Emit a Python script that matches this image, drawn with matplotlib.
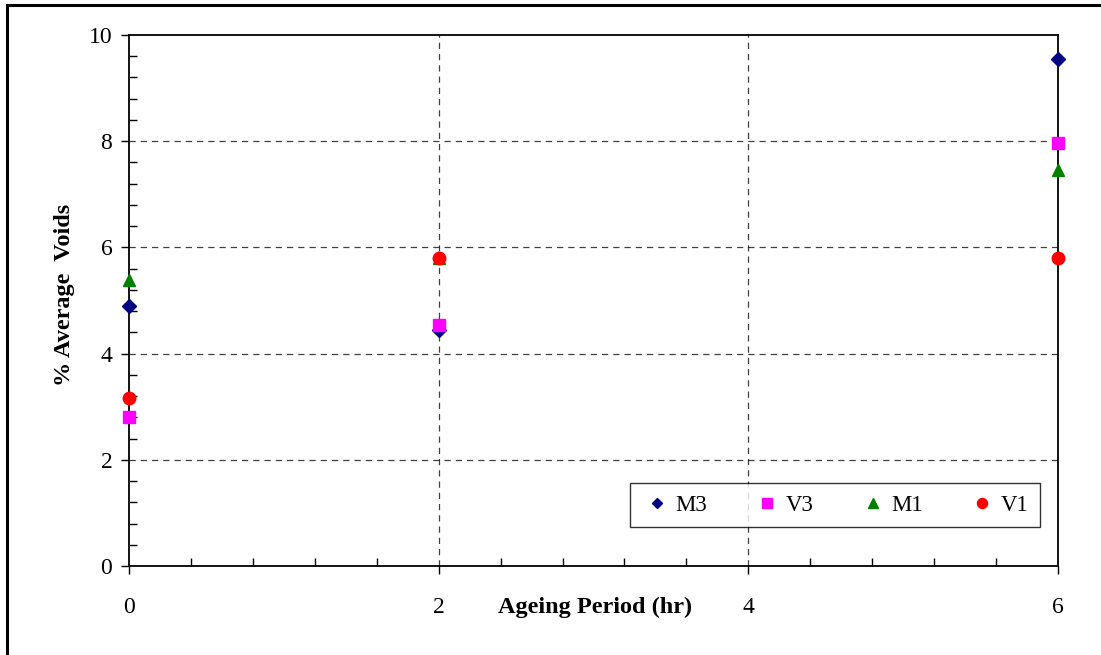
import numpy as np
import matplotlib
matplotlib.use("Agg")
import matplotlib.pyplot as plt
from matplotlib.ticker import MultipleLocator
from matplotlib.patches import Rectangle

# ageing period (hr) and % average voids per mix
hours = [0, 2, 6]
m3 = [4.90, 4.45, 9.55]
v3 = [2.80, 4.53, 7.96]
m1 = [5.39, 5.80, 7.46]
v1 = [3.17, 5.80, 5.80]

plt.rcParams['font.family'] = ['Liberation Serif', 'DejaVu Serif']

fig = plt.figure(figsize=(11.01, 6.55), dpi=100)
ax = fig.add_axes([129/1101, 89/655, 929/1101, 531/655])

# outer frame (only top/left visible in the original)
fig.patches.append(Rectangle((7/1101, -0.1), 1.2, 1.1 - 5/655,
                             transform=fig.transFigure, fill=False,
                             edgecolor='black', linewidth=2.2))

ax.plot(hours, m3, linestyle='none', marker='D', color='#000080', markersize=7, label='M3', clip_on=False, zorder=5)
ax.plot(hours, v3, linestyle='none', marker='s', color='#FF00FF', markersize=8.5, label='V3', clip_on=False, zorder=5)
ax.plot(hours, m1, linestyle='none', marker='^', color='#008000', markersize=9, label='M1', clip_on=False, zorder=4)
ax.plot(hours, v1, linestyle='none', marker='o', color='#FF0000', markersize=9, label='V1', clip_on=False, zorder=6)

ax.set_xlim(0, 6)
ax.set_ylim(0, 10)
ax.xaxis.set_major_locator(MultipleLocator(2))
ax.xaxis.set_minor_locator(MultipleLocator(0.4))
ax.yaxis.set_major_locator(MultipleLocator(2))
ax.yaxis.set_minor_locator(MultipleLocator(0.4))

ax.tick_params(axis='both', which='major', direction='out', length=6, width=1, labelsize=17)
ax.tick_params(axis='both', which='minor', direction='in', length=6, width=1)
ax.tick_params(axis='x', which='major', pad=16)
ax.tick_params(axis='y', which='major', pad=6)

# dashed grid like the original
for yv in [2, 4, 6, 8]:
    ax.axhline(yv, color='black', linestyle=(0, (5, 4)), linewidth=0.9, alpha=0.75, zorder=1)
for xv in [2, 4]:
    ax.axvline(xv, color='black', linestyle=(0, (5, 4)), linewidth=0.9, alpha=0.75, zorder=1)

for s in ax.spines.values():
    s.set_linewidth(1.3)

ax.set_xlabel('Ageing Period (hr)', fontsize=17.5, fontweight='bold')
ax.set_ylabel('% Average  Voids', fontsize=17.5, fontweight='bold')
ax.xaxis.set_label_coords(0.502, -0.058)
ax.yaxis.set_label_coords(-0.058, 0.51)

leg = ax.legend(loc='lower right', bbox_to_anchor=(0.9806, 0.0734), borderaxespad=0,
                ncol=4, fontsize=16.5, frameon=True, fancybox=False, edgecolor='black',
                columnspacing=1.9, handletextpad=0.1, handlelength=1.4, borderpad=0.5,
                markerscale=0.8)
leg.get_frame().set_linewidth(1.0)

fig.savefig('out.png', dpi=100)
